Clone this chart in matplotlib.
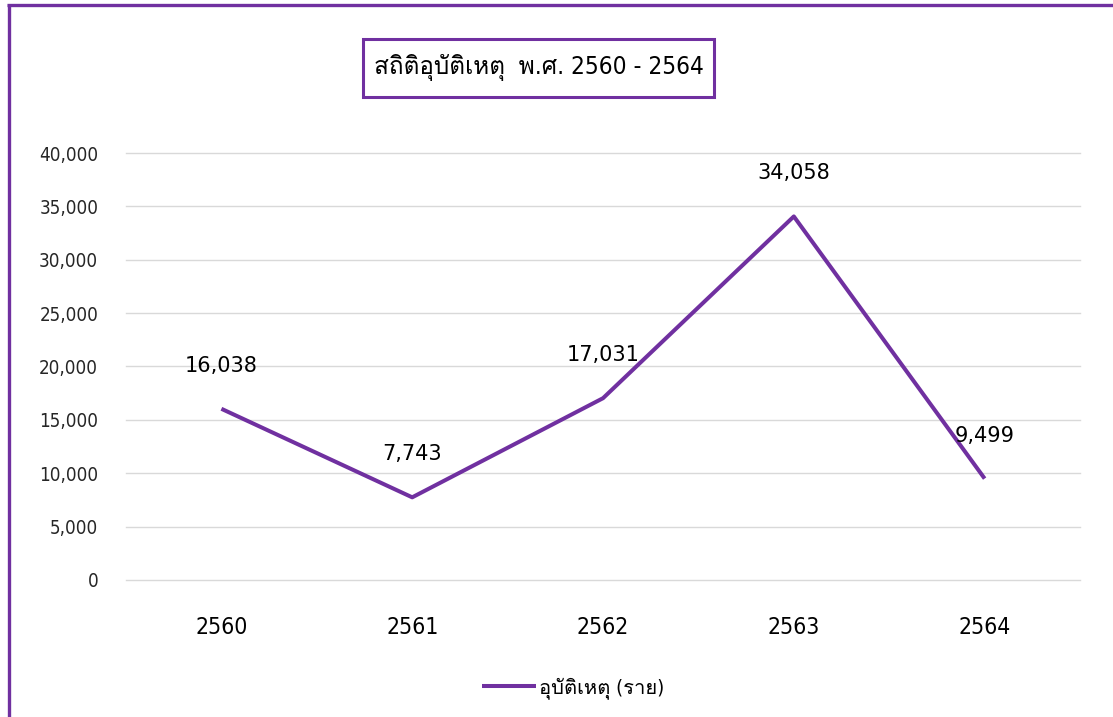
import matplotlib
matplotlib.use("Agg")
import matplotlib.pyplot as plt
from matplotlib.lines import Line2D
from matplotlib.patches import Rectangle
from matplotlib.ticker import FuncFormatter

plt.rcParams["font.family"] = ["DejaVu Sans", "Loma", "Sarabun"]
plt.rcParams["font.stretch"] = "condensed"

years = ["2560", "2561", "2562", "2563", "2564"]
accidents = [16038, 7743, 17031, 34058, 9499]
title = "สถิติอุบัติเหตุ  พ.ศ. 2560 - 2564"
series_name = "อุบัติเหตุ (ราย)"

purple = "#7030A0"

fig = plt.figure(figsize=(11.13, 7.17), dpi=100)
ax = fig.add_axes([0.1132, 0.1911, 0.8572, 0.5955])

x = list(range(len(years)))
ax.plot(x, accidents, color=purple, linewidth=2.9, solid_capstyle="butt",
        label=series_name)

for xi, v in zip(x, accidents):
    ax.annotate(f"{v:,}", (xi, v), xytext=(0, 31), textcoords="offset points",
                ha="center", va="center", fontsize=15, fontstretch="normal",
                color="#000000")

ax.set_xlim(-0.5, len(years) - 0.5)
ax.set_ylim(0, 40000)
ax.set_yticks(range(0, 40001, 5000))
ax.yaxis.set_major_formatter(FuncFormatter(lambda v, p: f"{int(v):,}"))
ax.set_xticks(x)
ax.set_xticklabels(years)
ax.tick_params(axis="y", length=0, pad=20, labelsize=13.5, labelcolor="#262626")
ax.tick_params(axis="x", length=0, pad=26, labelsize=16.5, labelcolor="#000000")
ax.grid(axis="y", color="#D9D9D9", linewidth=1)
for gl in ax.get_ygridlines():
    gl.set_clip_on(False)
ax.set_axisbelow(True)
for s in ax.spines.values():
    s.set_visible(False)

# title box
fig.patches.append(Rectangle((0.3261, 0.8647), 0.3154, 0.0809,
                             transform=fig.transFigure, fill=False,
                             edgecolor=purple, linewidth=2.2))
fig.text(0.4838, 0.9052, title, ha="center", va="center", fontsize=17.5)

fig.legend(loc="center", bbox_to_anchor=(0.515, 0.0405), frameon=False,
           fontsize=14.5, handlelength=2.7, handletextpad=0.15)

# outer frame (top and left edges)
fig.add_artist(Line2D([0.0063, 1.0], [0.9930, 0.9930], color=purple,
                      linewidth=2.4, solid_capstyle="butt",
                      transform=fig.transFigure))
fig.add_artist(Line2D([0.0079, 0.0079], [0.0, 0.9951], color=purple,
                      linewidth=2.4, solid_capstyle="butt",
                      transform=fig.transFigure))

fig.savefig("out.png", dpi=100)
